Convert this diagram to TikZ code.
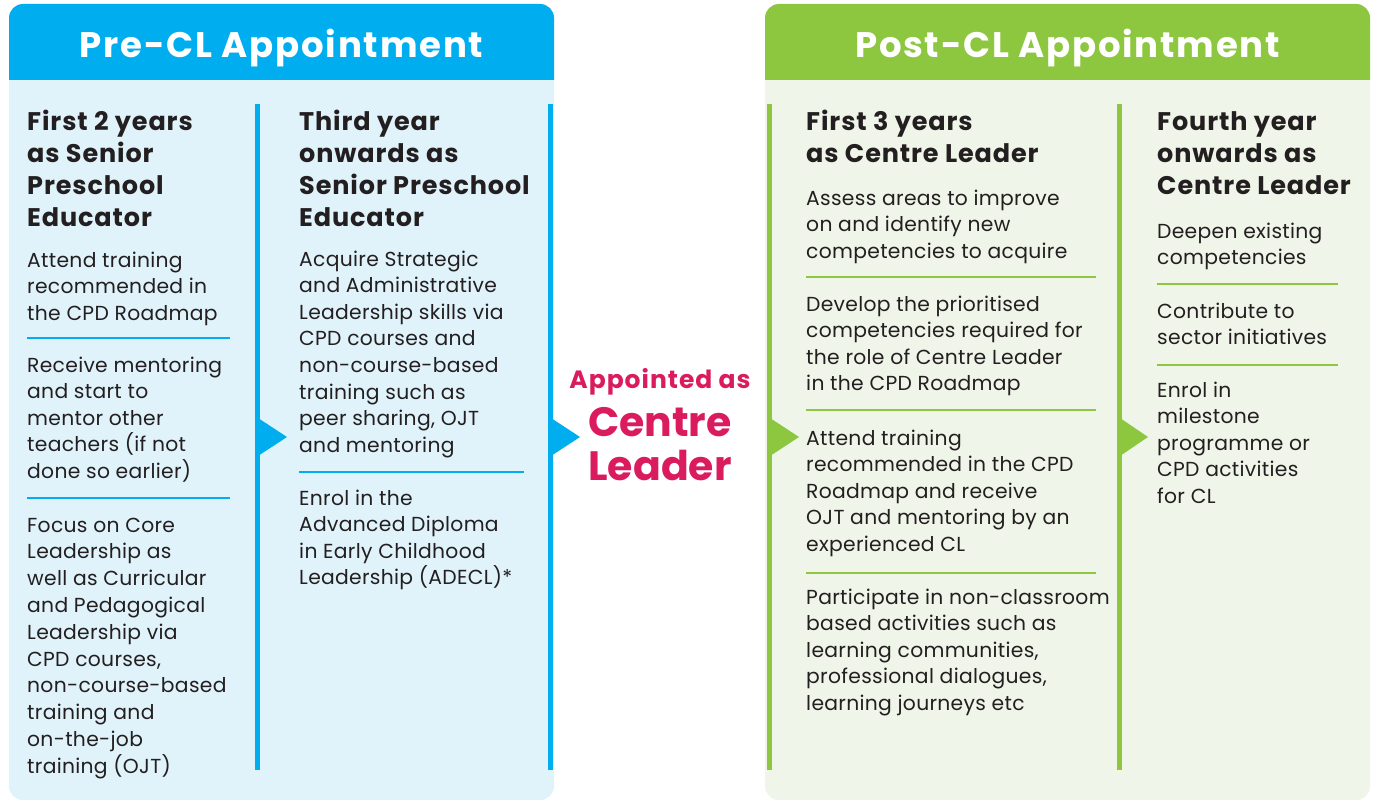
\documentclass[tikz,border=0pt]{standalone}
\usepackage{fontspec}
\setmainfont{Poppins}
\newfontfamily\bodyfont[LetterSpace=1.5]{Poppins}
\newfontfamily\headfont[LetterSpace=3.5]{Poppins}
\newfontfamily\titlefont[LetterSpace=4]{Poppins}
\newfontfamily\bigtitlefont[LetterSpace=5]{Poppins}
\definecolor{cblue}{HTML}{00AEEF}
\definecolor{lblue}{HTML}{E0F3FB}
\definecolor{cgreen}{HTML}{8DC63F}
\definecolor{lgreen}{HTML}{EFF5E8}
\definecolor{cpink}{HTML}{DA1B5E}
\definecolor{ctext}{HTML}{231F20}
\newcommand\Ln[1]{\hbox{#1}}
\newcommand\Blk[2]{\vtop{\lineskiplimit=-100pt\baselineskip=#1pt #2}}
\tikzset{
  body/.style={anchor=base west, inner sep=0pt, text=ctext, font=\bodyfont\fontsize{20.3}{26.6}\selectfont},
  head/.style={anchor=base west, inner sep=0pt, text=ctext, font=\headfont\fontsize{25.5}{32}\selectfont\bfseries},
  title/.style={anchor=base, inner sep=0pt, text=white, font=\bigtitlefont\fontsize{35.5}{40}\selectfont\bfseries},
  bsep/.style={draw=cblue, line width=2.5pt},
  gsep/.style={draw=cgreen, line width=2.5pt},
}
\begin{document}
\begin{tikzpicture}[x=1pt,y=-1pt]
\useasboundingbox (0,0) rectangle (1376,800);
\fill[white] (0,0) rectangle (1376,800);
% panels
\fill[lblue, rounded corners=14pt] (9,4) rectangle (554,800);
\fill[cblue] (9,80) [rounded corners=14pt] -- (9,4) -- (554,4) [sharp corners] -- (554,80) -- cycle;
\fill[lgreen, rounded corners=14pt] (765,4) rectangle (1370,800);
\fill[cgreen] (765,80) [rounded corners=14pt] -- (765,4) -- (1370,4) [sharp corners] -- (1370,80) -- cycle;
\node[title] (pre) at (281.5,58) {Pre-CL Appointment};
\node[title] (post) at (1067.5,58) {Post-CL Appointment};
% vertical lines and arrow heads
\fill[cblue] (255,104) rectangle (260,770);
\fill[cblue] (258,418) -- (287,437) -- (258,456) -- cycle;
\fill[cblue] (548,104) rectangle (553,770);
\fill[cblue] (551,418) -- (580,437) -- (551,456) -- cycle;
\fill[cgreen] (767,104) rectangle (772,770);
\fill[cgreen] (770,418) -- (799,437) -- (770,456) -- cycle;
\fill[cgreen] (1117,104) rectangle (1122,770);
\fill[cgreen] (1120,418) -- (1148,437) -- (1120,456) -- cycle;
% column 1
\node[head] (h1) at (27,130) {\Blk{32.2}{\Ln{First 2 years}\Ln{as Senior}\Ln{Preschool}\Ln{Educator}}};
\node[body] (a1) at (27,267) {\Blk{26.6}{\Ln{Attend training}\Ln{recommended in}\Ln{the CPD Roadmap}}};
\path[bsep] (27,338) -- (230,338);
\node[body] (a2) at (27,372) {\Blk{26.6}{\Ln{Receive mentoring}\Ln{and start to}\Ln{mentor other}\Ln{teachers (if not}\Ln{done so earlier)}}};
\path[bsep] (27,498) -- (230,498);
\node[body] (a3) at (27,532) {\Blk{26.8}{\Ln{Focus on Core}\Ln{Leadership as}\Ln{well as Curricular}\Ln{and Pedagogical}\Ln{Leadership via}\Ln{CPD courses,}\Ln{non-course-based}\Ln{training and}\Ln{on-the-job}\Ln{training (OJT)}}};
% column 2
\node[head] (h2) at (299,130) {\Blk{32.2}{\Ln{Third year}\Ln{onwards as}\Ln{Senior Preschool}\Ln{Educator}}};
\node[body] (b1) at (299,266) {\Blk{26.6}{\Ln{Acquire Strategic}\Ln{and Administrative}\Ln{Leadership skills via}\Ln{CPD courses and}\Ln{non-course-based}\Ln{training such as}\Ln{peer sharing, OJT}\Ln{and mentoring}}};
\path[bsep] (299,472) -- (524,472);
\node[body] (b2) at (299,505) {\Blk{26.6}{\Ln{Enrol in the}\Ln{Advanced Diploma}\Ln{in Early Childhood}\Ln{Leadership (ADECL)*}}};
% centre
\node[anchor=base, inner sep=0pt, text=cpink, font=\titlefont\fontsize{25}{28}\selectfont\bfseries] (c1) at (660,388) {Appointed as};
\node[anchor=base, inner sep=0pt, text=cpink, font=\fontsize{41}{44}\selectfont\bfseries] (c2) at (660,436) {Centre};
\node[anchor=base, inner sep=0pt, text=cpink, font=\fontsize{41}{44}\selectfont\bfseries] (c3) at (660,480) {Leader};
% column 3
\node[head] (h3) at (806,130) {\Blk{32.2}{\Ln{First 3 years}\Ln{as Centre Leader}}};
\node[body] (d1) at (806,205) {\Blk{26.6}{\Ln{Assess areas to improve}\Ln{on and identify new}\Ln{competencies to acquire}}};
\path[gsep] (806,277) -- (1096,277);
\node[body] (d2) at (806,311) {\Blk{26.6}{\Ln{Develop the prioritised}\Ln{competencies required for}\Ln{the role of Centre Leader}\Ln{in the CPD Roadmap}}};
\path[gsep] (806,410) -- (1096,410);
\node[body] (d3) at (806,445) {\Blk{26.6}{\Ln{Attend training}\Ln{recommended in the CPD}\Ln{Roadmap and receive}\Ln{OJT and mentoring by an}\Ln{experienced CL}}};
\path[gsep] (806,573) -- (1096,573);
\node[body] (d4) at (806,604) {\Blk{26.6}{\Ln{Participate in non-classroom}\Ln{based activities such as}\Ln{learning communities,}\Ln{professional dialogues,}\Ln{learning journeys etc}}};
% column 4
\node[head] (h4) at (1157,130) {\Blk{32.2}{\Ln{Fourth year}\Ln{onwards as}\Ln{Centre Leader}}};
\node[body] (e1) at (1157,238) {\Blk{26.6}{\Ln{Deepen existing}\Ln{competencies}}};
\path[gsep] (1157,284) -- (1338,284);
\node[body] (e2) at (1157,318) {\Blk{26.6}{\Ln{Contribute to}\Ln{sector initiatives}}};
\path[gsep] (1157,365) -- (1338,365);
\node[body] (e3) at (1157,397) {\Blk{26.6}{\Ln{Enrol in}\Ln{milestone}\Ln{programme or}\Ln{CPD activities}\Ln{for CL}}};
\end{tikzpicture}
\end{document}
